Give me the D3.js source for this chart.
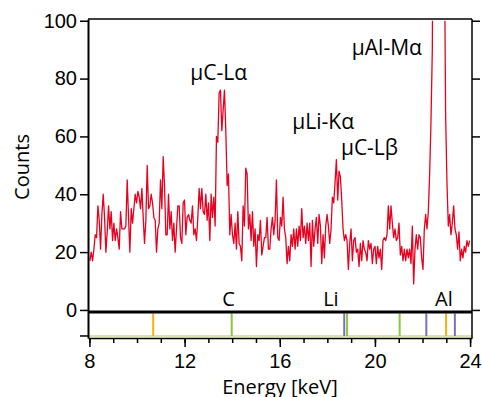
<!DOCTYPE html>
<html>
<head>
<meta charset="utf-8">
<script src="https://cdn.jsdelivr.net/npm/d3@7"></script>
<style>
  html, body { margin: 0; padding: 0; background: #fff; }
  svg { display: block; font-family: "Open Sans", "Noto Sans", sans-serif; }
</style>
</head>
<body>
<div id="chart"></div>
<script>
// spectrum: counts per channel, channels start at 8.02 keV, 0.056 keV wide
const channelStart = 8.02;
const channelWidth = 0.056;
const counts = [
    17, 20, 17, 21, 26, 25, 36, 31, 21, 33, 40, 32, 20, 27, 36, 28, 34, 24, 30, 24,
    28, 25, 21, 34, 28, 28, 28, 29, 45, 32, 20, 35, 30, 35, 40, 37, 41, 39, 35, 42,
    32, 23, 31, 50, 35, 36, 40, 37, 32, 31, 20, 28, 30, 45, 35, 53,
    43, 26, 26, 40, 28, 34, 24, 30, 20, 28, 36, 36, 25, 23, 37, 38, 26, 32, 33, 31,
    30, 36, 26, 28, 24, 32, 42, 35, 42, 34, 33, 40, 31, 37, 24, 40, 32, 39, 29, 60,
    58, 75, 76, 62, 69, 76, 62, 43, 47, 26, 33, 26, 23, 30, 21, 34, 23, 22, 17, 36,
    29, 49, 47, 28, 33, 24, 34, 22, 28, 15, 26, 24, 31, 19, 22, 25, 25, 32, 21, 21,
    28, 32, 26, 31, 45, 25, 24, 32, 29, 39, 28, 25, 16, 22, 17, 26, 22, 28, 21, 28,
    22, 29, 24, 35, 25, 29, 23, 30, 24, 30, 15, 31, 22, 28, 32, 23, 33,
    29, 16, 26, 18, 29, 33, 29, 23, 28, 39, 37, 44, 52, 38, 48, 46, 38, 28, 24, 26,
    24, 14, 23, 28, 17, 24, 25, 20, 21, 15, 23, 17, 24, 21, 20, 17, 24, 21, 23, 16,
    21, 22, 16, 22, 18, 21, 14, 24, 25, 24, 26, 36, 28, 36, 30, 25, 28, 24, 25,
    30, 19, 22, 17, 21, 17, 21, 18, 21, 16, 29, 9, 21, 26, 21, 26, 25, 18, 14, 28,
    33, 28, 34, 47, 65, 90, 180, 320, 450, 520, 500, 420, 300, 190, 130, 67, 44, 29,
    33, 26, 30, 36, 28, 26, 21, 27, 17, 21, 18, 22, 20, 24, 22, 24
];

const xTicks = [8, 12, 16, 20, 24];
const yTicks = [0, 20, 40, 60, 80, 100];

// peak labels
const peakNames = ['\u03bcC-L\u03b1', '\u03bcLi-K\u03b1', '\u03bcC-L\u03b2', '\u03bcAl-M\u03b1'];
const peakEnergies = [12.24, 16.53, 18.57, 19.03];
const peakCounts = [79.5, 62.6, 53.6, 88.1];

// element marker lines under the spectrum
const markerEnergies = [10.68, 13.98, 18.71, 18.83, 21.04, 22.16, 22.99, 23.36];
const markerKinds = ['a', 'b', 'c', 'b', 'b', 'c', 'a', 'c'];
const elementNames = ['C', 'Li', 'Al'];
const elementEnergies = [13.85, 18.15, 22.9];

const width = 482, height = 397;
const plotLeft = 88, plotRight = 472, plotTop = 19, plotBottom = 338;

const spectrum = counts.map((c, i) => ({ e: channelStart + i * channelWidth, c: c }));

const svg = d3.select('#chart').append('svg')
    .attr('width', width)
    .attr('height', height);

const x = d3.scaleLinear()
    .domain([7.94, 24.08])
    .range([plotLeft, plotRight]);

const y = d3.scaleLinear()
    .domain([-9.7, 100.6])
    .range([plotBottom, plotTop]);

const kindColor = d3.scaleOrdinal()
    .domain(['a', 'b', 'c'])
    .range(['#f6b10f', '#8cc63f', '#7c70bd']);

svg.append('clipPath').attr('id', 'plotClip')
    .append('rect')
    .attr('x', plotLeft)
    .attr('y', y(100))
    .attr('width', plotRight - plotLeft)
    .attr('height', plotBottom - y(100));

// marker panel baseline
svg.append('line')
    .attr('x1', plotLeft).attr('x2', plotRight)
    .attr('y1', y(-9)).attr('y2', y(-9))
    .attr('stroke', '#d3db8c')
    .attr('stroke-width', 1.5);

svg.append('g')
    .selectAll('line')
    .data(markerEnergies)
    .enter().append('line')
    .attr('x1', d => x(d)).attr('x2', d => x(d))
    .attr('y1', y(-1.2)).attr('y2', y(-9))
    .attr('stroke', (d, i) => kindColor(markerKinds[i]))
    .attr('stroke-width', 2);

// zero line
svg.append('line')
    .attr('x1', plotLeft).attr('x2', plotRight)
    .attr('y1', y(0) + 2).attr('y2', y(0) + 2)
    .attr('stroke', '#000')
    .attr('stroke-width', 3);

const line = d3.line()
    .x(d => x(d.e))
    .y(d => y(d.c));

svg.append('path')
    .datum(spectrum)
    .attr('clip-path', 'url(#plotClip)')
    .attr('fill', 'none')
    .attr('stroke', '#e8001e')
    .attr('stroke-width', 1.3)
    .attr('stroke-linejoin', 'round')
    .attr('d', line);

// frame
svg.append('line')
    .attr('x1', plotLeft).attr('x2', plotRight)
    .attr('y1', plotTop).attr('y2', plotTop)
    .attr('stroke', '#000').attr('stroke-width', 1.5);
svg.append('line')
    .attr('x1', plotRight).attr('x2', plotRight)
    .attr('y1', plotTop).attr('y2', plotBottom)
    .attr('stroke', '#000').attr('stroke-width', 1.5);

const yAxis = svg.append('g')
    .attr('transform', 'translate(' + plotLeft + ',0)')
    .call(d3.axisLeft(y).tickValues(yTicks).tickSize(8).tickPadding(3).tickSizeOuter(0));
yAxis.select('.domain').attr('stroke-width', 2);
yAxis.selectAll('.tick line').attr('stroke-width', 1.5);
yAxis.selectAll('text').attr('font-size', 20).attr('fill', '#000').style('font-family', 'inherit');

// lower end tick of the left axis
svg.append('line')
    .attr('x1', plotLeft - 8).attr('x2', plotLeft)
    .attr('y1', y(-9)).attr('y2', y(-9))
    .attr('stroke', '#000').attr('stroke-width', 1.5);

const yRight = svg.append('g')
    .attr('transform', 'translate(' + plotRight + ',0)')
    .call(d3.axisRight(y).tickValues(yTicks).tickSize(8).tickFormat('').tickSizeOuter(0));
yRight.select('.domain').remove();
yRight.selectAll('.tick line').attr('stroke-width', 1.5);

const xMinor = svg.append('g')
    .attr('transform', 'translate(0,' + plotBottom + ')')
    .call(d3.axisBottom(x).ticks(16).tickSize(5).tickFormat('').tickSizeOuter(0));
xMinor.select('.domain').attr('stroke-width', 1.5);
xMinor.selectAll('.tick line').attr('stroke-width', 1.5);

const xAxis = svg.append('g')
    .attr('transform', 'translate(0,' + plotBottom + ')')
    .call(d3.axisBottom(x).tickValues(xTicks).tickSize(9).tickPadding(7).tickSizeOuter(0));
xAxis.select('.domain').remove();
xAxis.selectAll('.tick line').attr('stroke-width', 1.5);
xAxis.selectAll('text').attr('font-size', 20).attr('fill', '#000').style('font-family', 'inherit');

// axis titles
svg.append('text')
    .attr('transform', 'translate(29,167) rotate(-90)')
    .attr('text-anchor', 'middle')
    .attr('font-size', 20)
    .text('Counts');

svg.append('text')
    .attr('x', 280)
    .attr('y', 394)
    .attr('text-anchor', 'middle')
    .attr('font-size', 20)
    .text('Energy [keV]');

// peak annotations
svg.append('g')
    .selectAll('text')
    .data(peakNames)
    .enter().append('text')
    .attr('x', (d, i) => x(peakEnergies[i]))
    .attr('y', (d, i) => y(peakCounts[i]))
    .attr('font-size', 21)
    .text(d => d);

// element names
svg.append('g')
    .selectAll('text')
    .data(elementNames)
    .enter().append('text')
    .attr('x', (d, i) => x(elementEnergies[i]))
    .attr('y', y(0) - 4)
    .attr('text-anchor', 'middle')
    .attr('font-size', 20)
    .text(d => d);
</script>
</body>
</html>
